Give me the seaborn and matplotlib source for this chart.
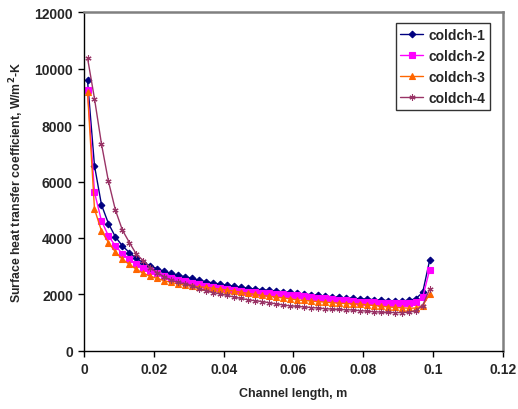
import numpy as np
import pandas as pd
import matplotlib
matplotlib.use("Agg")
import matplotlib.pyplot as plt
import seaborn as sns

# channel positions (m) and surface heat transfer coefficient (W/m2-K)
channel_x = [0.001, 0.003, 0.005, 0.007, 0.009, 0.011, 0.013, 0.015, 0.017, 0.019,
             0.021, 0.023, 0.025, 0.027, 0.029, 0.031, 0.033, 0.035, 0.037, 0.039,
             0.041, 0.043, 0.045, 0.047, 0.049, 0.051, 0.053, 0.055, 0.057, 0.059,
             0.061, 0.063, 0.065, 0.067, 0.069, 0.071, 0.073, 0.075, 0.077, 0.079,
             0.081, 0.083, 0.085, 0.087, 0.089, 0.091, 0.093, 0.095, 0.097, 0.099]

coldch_1 = [9590, 6560, 5175, 4510, 4035, 3715, 3480, 3275, 3120, 3010,
            2900, 2810, 2740, 2680, 2620, 2560, 2500, 2445, 2400, 2360,
            2320, 2285, 2245, 2215, 2185, 2160, 2135, 2110, 2090, 2070,
            2040, 2010, 1985, 1960, 1935, 1910, 1890, 1870, 1855, 1840,
            1825, 1810, 1790, 1775, 1770, 1770, 1780, 1840, 2065, 3210]

coldch_2 = [9260, 5615, 4605, 4070, 3715, 3440, 3240, 3060, 2930, 2835,
            2740, 2650, 2580, 2520, 2460, 2400, 2350, 2300, 2260, 2220,
            2185, 2150, 2120, 2095, 2070, 2050, 2035, 2020, 2010, 1990,
            1960, 1935, 1910, 1885, 1860, 1835, 1810, 1780, 1750, 1735,
            1725, 1715, 1705, 1695, 1690, 1690, 1700, 1720, 1890, 2870]

coldch_3 = [9180, 5020, 4250, 3835, 3500, 3240, 3060, 2885, 2740, 2640,
            2560, 2480, 2420, 2365, 2320, 2285, 2265, 2245, 2210, 2180,
            2150, 2110, 2070, 2030, 1995, 1960, 1930, 1900, 1870, 1840,
            1800, 1780, 1760, 1740, 1720, 1700, 1685, 1670, 1660, 1650,
            1630, 1600, 1575, 1550, 1535, 1520, 1505, 1510, 1590, 2010]

coldch_4 = [10390, 8940, 7335, 6005, 4985, 4275, 3835, 3420, 3190, 2945,
            2760, 2620, 2500, 2420, 2370, 2300, 2200, 2120, 2060, 2010,
            1960, 1900, 1850, 1805, 1770, 1740, 1700, 1660, 1620, 1590,
            1570, 1550, 1530, 1510, 1490, 1470, 1460, 1450, 1440, 1420,
            1400, 1380, 1365, 1355, 1350, 1350, 1360, 1415, 1600, 2185]

series_names = ["coldch-1", "coldch-2", "coldch-3", "coldch-4"]
series_vals = [coldch_1, coldch_2, coldch_3, coldch_4]

df = pd.concat([
    pd.DataFrame({"x": channel_x, "h": v, "case": n})
    for n, v in zip(series_names, series_vals)
])

palette = {"coldch-1": "#000080", "coldch-2": "#FF00FF",
           "coldch-3": "#FF6600", "coldch-4": "#993366"}
markers = {"coldch-1": "D", "coldch-2": "s",
           "coldch-3": "^", "coldch-4": (6, 2, 0)}
msize = {"coldch-1": 3.4, "coldch-2": 4.2, "coldch-3": 4.4, "coldch-4": 4.4}

sns.set_style("white")
plt.rcParams["font.family"] = ["Liberation Sans", "DejaVu Sans"]
plt.rcParams["font.weight"] = "bold"

fig = plt.figure(figsize=(5.18, 4.10), dpi=100)
ax = fig.add_axes([0.1622, 0.1424, 0.8088, 0.8247])

for n in series_names:
    sub = df[df["case"] == n]
    sns.lineplot(data=sub, x="x", y="h", color=palette[n], marker=markers[n],
                 markersize=msize[n], markeredgecolor=palette[n],
                 markeredgewidth=0.8, linewidth=1.0, label=n, ax=ax,
                 estimator=None, sort=False)

ax.set_xlim(0, 0.12)
ax.set_ylim(0, 12000)
ax.set_xticks([0, 0.02, 0.04, 0.06, 0.08, 0.1, 0.12])
ax.set_xticklabels(["0", "0.02", "0.04", "0.06", "0.08", "0.1", "0.12"])
ax.set_yticks(range(0, 12001, 2000))
ax.tick_params(axis="both", direction="out", length=4, width=1, color="black",
               labelsize=10, bottom=True, left=True, pad=4)
for lbl in ax.get_xticklabels() + ax.get_yticklabels():
    lbl.set_fontweight("bold")

ax.set_xlabel("Channel length, m", fontsize=9, fontweight="bold", labelpad=8)
ax.set_ylabel("Surface heat transfer coefficient, W/m$^2$-K",
              fontsize=8.8, fontweight="bold", labelpad=6)

for side in ["left", "bottom"]:
    ax.spines[side].set_color("black")
    ax.spines[side].set_linewidth(1.0)
for side in ["top", "right"]:
    ax.spines[side].set_color("#808080")
    ax.spines[side].set_linewidth(1.8)

leg = ax.legend(loc="upper right", bbox_to_anchor=(0.969, 0.969),
                borderaxespad=0, frameon=True, fancybox=False,
                edgecolor="black", prop={"weight": "bold", "size": 10},
                handlelength=1.6, handletextpad=0.4, borderpad=0.35,
                labelspacing=0.5)
leg.get_frame().set_linewidth(1.0)

fig.savefig("out.png", dpi=100)
